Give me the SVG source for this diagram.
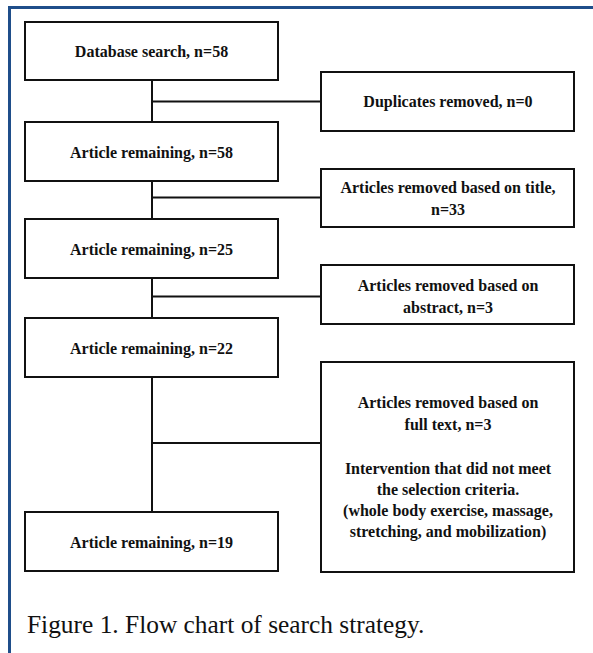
<svg xmlns="http://www.w3.org/2000/svg" width="593" height="653" viewBox="0 0 593 653">
<style>
.box{fill:#fff;stroke:#111;stroke-width:2}
.ln{stroke:#111;stroke-width:2;fill:none}
.t{font-family:"Liberation Serif","Times New Roman",serif;font-size:16px;font-weight:bold;fill:#111;text-anchor:middle}
.cap{font-family:"Liberation Serif","Times New Roman",serif;font-size:25.4px;fill:#111}
</style>
<rect width="593" height="653" fill="#fff"/>
<path d="M9.5 653 V7.5 H593" fill="none" stroke="#1f4e8a" stroke-width="3"/>
<g id="connectors">
<line class="ln" x1="152" y1="81" x2="152" y2="512"/>
<line class="ln" x1="152" y1="101.5" x2="321" y2="101.5"/>
<line class="ln" x1="152" y1="197.5" x2="321" y2="197.5"/>
<line class="ln" x1="152" y1="296.5" x2="321" y2="296.5"/>
<line class="ln" x1="152" y1="443" x2="321" y2="443"/>
</g>
<g id="n1"><rect class="box" x="25" y="22" width="253" height="58"/><text class="t" x="151.5" y="57">Database search, n=58</text></g>
<g id="n2"><rect class="box" x="25" y="122" width="253" height="59"/><text class="t" x="151.5" y="158">Article remaining, n=58</text></g>
<g id="n3"><rect class="box" x="25" y="219" width="253" height="59"/><text class="t" x="151.5" y="255">Article remaining, n=25</text></g>
<g id="n4"><rect class="box" x="25" y="318" width="253" height="59"/><text class="t" x="151.5" y="354">Article remaining, n=22</text></g>
<g id="n5"><rect class="box" x="25" y="512" width="253" height="59"/><text class="t" x="151.5" y="548">Article remaining, n=19</text></g>
<g id="r1"><rect class="box" x="321" y="72" width="253" height="59"/><text class="t" x="448" y="107">Duplicates removed, n=0</text></g>
<g id="r2"><rect class="box" x="321" y="169" width="253" height="58"/><text class="t" x="448" y="193">Articles removed based on title,</text><text class="t" x="448" y="215">n=33</text></g>
<g id="r3"><rect class="box" x="321" y="265" width="253" height="59"/><text class="t" x="448" y="291">Articles removed based on</text><text class="t" x="448" y="313">abstract, n=3</text></g>
<g id="r4"><rect class="box" x="321" y="362" width="253" height="210"/>
<text class="t" x="448" y="408">Articles removed based on</text>
<text class="t" x="448" y="430">full text, n=3</text>
<text class="t" x="448" y="474">Intervention that did not meet</text>
<text class="t" x="448" y="495">the selection criteria.</text>
<text class="t" x="448" y="516">(whole body exercise, massage,</text>
<text class="t" x="448" y="537">stretching, and mobilization)</text>
</g>
<text class="cap" x="27" y="633">Figure 1. Flow chart of search strategy.</text>
</svg>
